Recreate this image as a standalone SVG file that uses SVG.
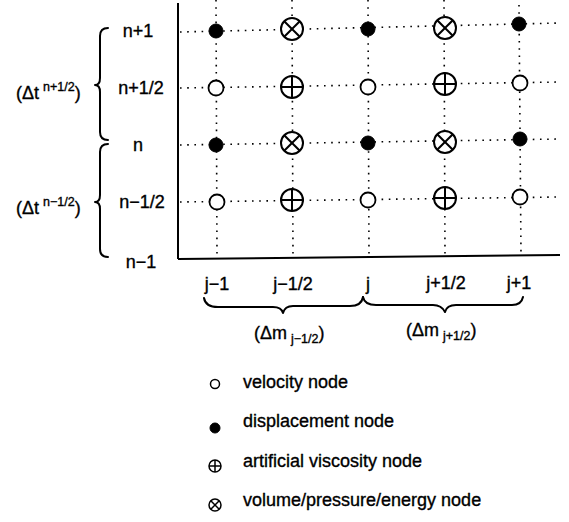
<svg xmlns="http://www.w3.org/2000/svg" width="569" height="522" viewBox="0 0 569 522">
<style>
text{font-family:"Liberation Sans",Arial,sans-serif;fill:#000;stroke:#000;stroke-width:0.35;}
.lbl{font-size:18px;}
.sm{font-size:12.5px;}
.leg{font-size:18px;}
.dot{stroke:#000;stroke-width:1.6;stroke-dasharray:1.6 5.6;fill:none;}
.axis{stroke:#000;stroke-width:2;fill:none;}
.brace{stroke:#000;stroke-width:2;fill:none;stroke-linecap:round;stroke-linejoin:round;}
.open{fill:#fff;stroke:#000;stroke-width:1.8;}
.fill{fill:#000;stroke:#000;stroke-width:1;}
.sym{fill:#fff;stroke:#000;stroke-width:2;}
.symline{stroke:#000;stroke-width:2;}
</style>
<defs>
<g id="plus"><circle class="sym" r="11"/><line class="symline" x1="-11" y1="0" x2="11" y2="0"/><line class="symline" x1="0" y1="-11" x2="0" y2="11"/></g>
<g id="cross"><circle class="sym" r="11"/><line class="symline" x1="-7.8" y1="-7.8" x2="7.8" y2="7.8"/><line class="symline" x1="-7.8" y1="7.8" x2="7.8" y2="-7.8"/></g>
<g id="plusS"><circle class="sym" style="stroke-width:1.5" r="6"/><line class="symline" style="stroke-width:1.5" x1="-6" y1="0" x2="6" y2="0"/><line class="symline" style="stroke-width:1.5" x1="0" y1="-6" x2="0" y2="6"/></g>
<g id="crossS"><circle class="sym" style="stroke-width:1.5" r="6"/><line class="symline" style="stroke-width:1.5" x1="-4.2" y1="-4.2" x2="4.2" y2="4.2"/><line class="symline" style="stroke-width:1.5" x1="-4.2" y1="4.2" x2="4.2" y2="-4.2"/></g>
</defs>
<g id="connectors">
<line class="dot" x1="180" y1="32" x2="560" y2="23"/>
<line class="dot" x1="180" y1="88" x2="560" y2="82"/>
<line class="dot" x1="180" y1="145" x2="560" y2="139"/>
<line class="dot" x1="180" y1="202" x2="560" y2="197"/>
<line class="dot" x1="216" y1="0" x2="217" y2="256"/>
<line class="dot" x1="292" y1="0" x2="293" y2="256"/>
<line class="dot" x1="368" y1="0" x2="369" y2="256"/>
<line class="dot" x1="444" y1="0" x2="445" y2="256"/>
<line class="dot" x1="519" y1="5" x2="521" y2="254"/>
</g>
<g id="axes">
<line class="axis" x1="178" y1="3" x2="178" y2="259"/>
<line class="axis" x1="178" y1="259" x2="560" y2="255"/>
</g>
<g id="nodes">
<g id="r1"><circle class="fill" cx="216" cy="31" r="7"/><use href="#cross" x="292" y="29"/><circle class="fill" cx="368" cy="29" r="7"/><use href="#cross" x="445" y="28"/><circle class="fill" cx="519" cy="24" r="7"/></g>
<g id="r2"><circle class="open" cx="216" cy="88" r="7.5"/><use href="#plus" x="292" y="87"/><circle class="open" cx="368" cy="87" r="7.5"/><use href="#plus" x="445" y="84"/><circle class="open" cx="520" cy="83" r="7.5"/></g>
<g id="r3"><circle class="fill" cx="216" cy="145" r="7"/><use href="#cross" x="292" y="143"/><circle class="fill" cx="368" cy="143" r="7"/><use href="#cross" x="445" y="142"/><circle class="fill" cx="520" cy="139" r="7"/></g>
<g id="r4"><circle class="open" cx="217" cy="202" r="7.5"/><use href="#plus" x="292" y="200"/><circle class="open" cx="368" cy="200" r="7.5"/><use href="#plus" x="445" y="198"/><circle class="open" cx="520" cy="197" r="7.5"/></g>
</g>
<g id="row-labels">
<text class="lbl" x="138" y="37" text-anchor="middle">n+1</text>
<text class="lbl" x="141" y="94" text-anchor="middle">n+1/2</text>
<text class="lbl" x="138" y="151" text-anchor="middle">n</text>
<text class="lbl" x="142" y="208" text-anchor="middle">n−1/2</text>
<text class="lbl" x="141" y="268" text-anchor="middle">n−1</text>
</g>
<g id="time-braces">
<path class="brace" d="M108,28 Q100,28 100,36 L100,78 Q100,85 95,85 Q100,85 100,92 L100,132 Q100,140 108,140"/>
<path class="brace" d="M108,144 Q100,144 100,152 L100,195 Q100,202 95,202 Q100,202 100,209 L100,249 Q100,257 108,257"/>
<text class="lbl" x="16" y="99">(Δt<tspan class="sm" dx="4" dy="-8">n+1/2</tspan><tspan dy="8">)</tspan></text>
<text class="lbl" x="16" y="214">(Δt<tspan class="sm" dx="4" dy="-8">n−1/2</tspan><tspan dy="8">)</tspan></text>
</g>
<g id="col-labels">
<text class="lbl" x="217" y="290" text-anchor="middle">j−1</text>
<text class="lbl" x="293" y="290" text-anchor="middle">j−1/2</text>
<text class="lbl" x="368" y="290" text-anchor="middle">j</text>
<text class="lbl" x="446" y="289" text-anchor="middle">j+1/2</text>
<text class="lbl" x="519" y="289" text-anchor="middle">j+1</text>
</g>
<g id="mass-braces">
<path class="brace" d="M204,298 C205,304 209,307 218,307 L273,307 C279,307 282,309 283,313 C284,309 287,306 293,306 L350,306 C358,306 362,303 363,297"/>
<path class="brace" d="M363,297 C364,302 368,305 376,305 L433,305 C440,305 443,308 445,312 C446,308 450,305 456,305 L512,305 C519,305 522,302 523,297"/>
<text class="lbl" x="254" y="339">(Δm<tspan class="sm" dx="4" dy="4">j−1/2</tspan><tspan dy="-4">)</tspan></text>
<text class="lbl" x="406" y="336">(Δm<tspan class="sm" dx="4" dy="4">j+1/2</tspan><tspan dy="-4">)</tspan></text>
</g>
<g id="legend">
<g id="leg-velocity"><circle class="open" style="stroke-width:1.5" cx="215" cy="384" r="4.5"/><text class="leg" x="243" y="388">velocity node</text></g>
<g id="leg-displacement"><circle class="fill" cx="215" cy="428" r="5"/><text class="leg" x="243" y="427">displacement node</text></g>
<g id="leg-viscosity"><use href="#plusS" x="215" y="466"/><text class="leg" x="243" y="467">artificial viscosity node</text></g>
<g id="leg-volume"><use href="#crossS" x="215" y="505"/><text class="leg" x="243" y="506">volume/pressure/energy node</text></g>
</g>
</svg>
